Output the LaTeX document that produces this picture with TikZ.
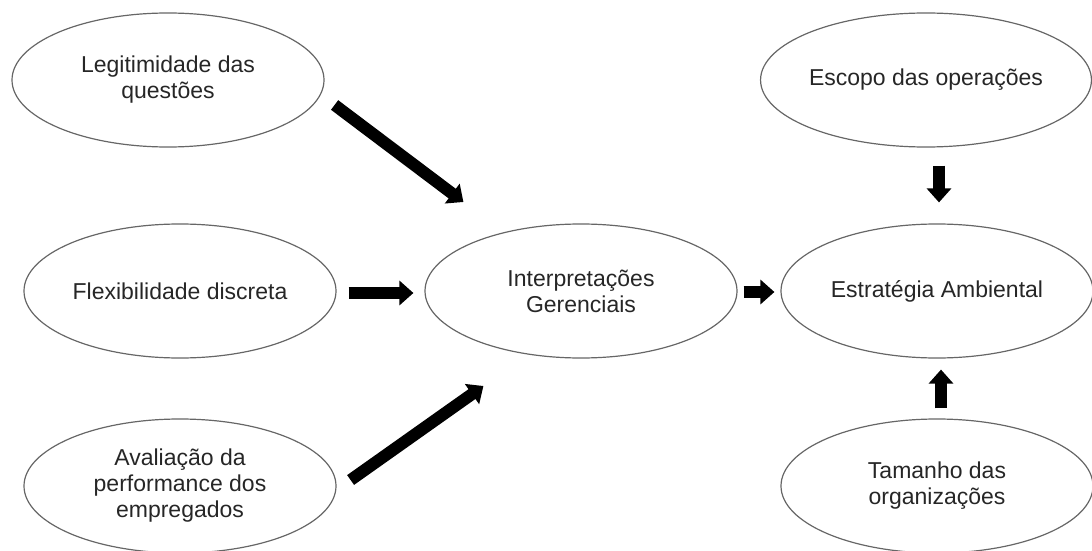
\documentclass[tikz,border=0pt]{standalone}
\usepackage{fontspec}
\setmainfont{Liberation Sans}
\usepackage{tikz}
\usetikzlibrary{arrows.meta, shapes.geometric, positioning, calc}

\begin{document}
\begin{tikzpicture}[
    x=0.5pt, y=-0.5pt,
    font=\fontsize{11.5pt}{13pt}\selectfont,
    factor/.style={ellipse, draw=black!60, line width=0.6pt, inner sep=0pt,
        minimum width=156pt, minimum height=67pt, align=center, text=black!85},
    bigarrow/.style={black, line width=6pt,
        -{Triangle[width=12pt, length=7pt]}}
]

% ---------- frame (pixel units, y downwards) ----------
\useasboundingbox (0,0) rectangle (1092,551);

% ---------- left column ----------
\node[factor] (legit) at (168,80) {Legitimidade das\\questões};
\node[factor] (flex)  at (180,291) {Flexibilidade discreta};
\node[factor] (aval)  at (180,486) {Avaliação da\\performance dos\\empregados};

% ---------- middle ----------
\node[factor] (interp) at (581,291) {Interpretações\\Gerenciais};

% ---------- right column ----------
\node[factor] (escopo)  at (926,80)  {Escopo das operações};
\node[factor] (estrat)  at (937,291) {Estratégia Ambiental};
\node[factor] (tamanho) at (937,486) {Tamanho das\\organizações};

% ---------- arrows ----------
\draw[bigarrow] ([shift={(10,25)}]legit.east) -- ([shift={(39,-89)}]interp.west);
\draw[bigarrow] ([shift={(12,2)}]flex.east) -- ([shift={(-11,2)}]interp.west);
\draw[bigarrow] ([shift={(14,-6)}]aval.east) -- ([shift={(59,95)}]interp.west);
\draw[bigarrow] ([shift={(6,1)}]interp.east) -- ([shift={(-6,1)}]estrat.west);
\draw[bigarrow] ([shift={(13,18)}]escopo.south) -- ([shift={(2,-21)}]estrat.north);
\draw[bigarrow] ([shift={(4,-10)}]tamanho.north) -- ([shift={(4,11)}]estrat.south);

\end{tikzpicture}
\end{document}
